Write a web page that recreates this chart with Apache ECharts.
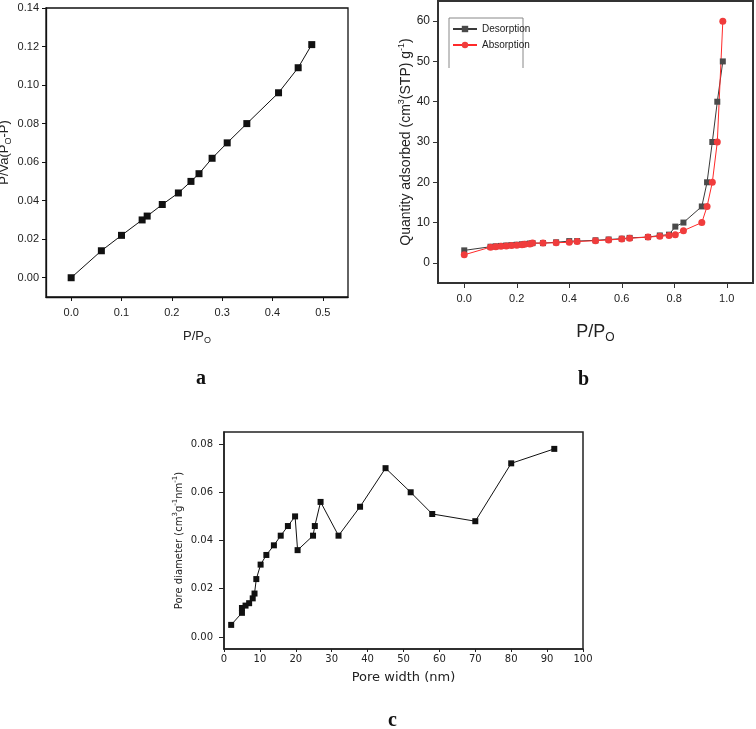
<!DOCTYPE html>
<html><head><meta charset="utf-8">
<script src="https://cdn.jsdelivr.net/npm/echarts@6/dist/echarts.min.js"></script>
<style>html,body{margin:0;padding:0;background:#fff}#c{width:756px;height:729px}</style>
</head><body><div id="c"></div>
<script>
// Panel a: BET plot
const aX = [0, 0.06, 0.10, 0.141, 0.151, 0.181, 0.213, 0.238, 0.254, 0.280, 0.310, 0.349, 0.412, 0.451, 0.478];
const aY = [0, 0.014, 0.022, 0.030, 0.032, 0.038, 0.044, 0.050, 0.054, 0.062, 0.070, 0.080, 0.096, 0.109, 0.121];
const aTicksX = [0, 0.1, 0.2, 0.3, 0.4, 0.5];
const aTicksY = [0, 0.02, 0.04, 0.06, 0.08, 0.10, 0.12, 0.14];

// Panel b: isotherms
const bDesX = [0, 0.10, 0.12, 0.14, 0.16, 0.18, 0.20, 0.22, 0.23, 0.25, 0.26, 0.30, 0.35, 0.40, 0.43, 0.50, 0.55, 0.60, 0.63, 0.70, 0.745, 0.78, 0.804, 0.835, 0.905, 0.925, 0.945, 0.964, 0.985];
const bDesY = [3.1, 4.0, 4.1, 4.2, 4.3, 4.4, 4.5, 4.6, 4.7, 4.8, 4.9, 4.9, 5.1, 5.4, 5.4, 5.6, 5.8, 6.0, 6.2, 6.4, 6.8, 7.0, 9.0, 10.0, 14.0, 20.0, 30.0, 40.0, 50.0];
const bAbsX = [0, 0.10, 0.12, 0.14, 0.16, 0.18, 0.20, 0.22, 0.23, 0.25, 0.26, 0.30, 0.35, 0.40, 0.43, 0.50, 0.55, 0.60, 0.63, 0.70, 0.745, 0.78, 0.804, 0.835, 0.905, 0.925, 0.945, 0.964, 0.985];
const bAbsY = [2.0, 3.9, 4.0, 4.1, 4.2, 4.3, 4.4, 4.5, 4.6, 4.7, 4.9, 4.9, 5.0, 5.1, 5.3, 5.5, 5.7, 5.9, 6.1, 6.4, 6.6, 6.8, 7.0, 8.0, 10.0, 14.0, 20.0, 30.0, 60.0];
const bTicksX = [0, 0.2, 0.4, 0.6, 0.8, 1.0];
const bTicksY = [0, 10, 20, 30, 40, 50, 60];

// Panel c: pore size distribution
const cX = [2, 5, 5, 6, 7, 8, 8.5, 9, 10.2, 11.8, 13.9, 15.8, 17.8, 19.8, 20.5, 24.8, 25.3, 26.9, 31.9, 37.9, 45, 52, 58, 70, 80, 92];
const cY = [0.005, 0.010, 0.012, 0.013, 0.014, 0.016, 0.018, 0.024, 0.030, 0.034, 0.038, 0.042, 0.046, 0.050, 0.036, 0.042, 0.046, 0.056, 0.042, 0.054, 0.070, 0.060, 0.051, 0.048, 0.072, 0.078];
const cTicksY = [0, 0.02, 0.04, 0.06, 0.08];

const pairs = (xs, ys) => xs.map((x, i) => [x, ys[i]]);
const SANS = 'Liberation Sans';
const DJ = 'DejaVu Sans';

function xAx(grid, min, max, ticks, fmt, o) {
  return {
    type: 'value', gridIndex: grid, min: min, max: max,
    splitLine: {show: false},
    axisLine: {show: true, onZero: false, lineStyle: {color: o.color, width: o.w}},
    axisTick: {show: true, inside: false, length: o.tick, customValues: ticks, lineStyle: {color: o.color, width: 1}},
    axisLabel: {customValues: ticks, formatter: fmt, margin: o.margin, fontSize: o.fs, fontFamily: o.ff, color: '#222'},
    name: o.name, nameLocation: 'middle', nameGap: o.gap, nameTextStyle: o.nts
  };
}

const chart = echarts.init(document.getElementById('c'), null, {renderer: 'canvas'});
chart.setOption({
  animation: false,
  backgroundColor: '#fff',
  grid: [
    {left: 46, top: 8, width: 302, height: 289, show: true, borderColor: '#111', borderWidth: 1.3, containLabel: false, outerBoundsMode: 'none'},
    {left: 438, top: 1, width: 315, height: 282, show: true, borderColor: '#333', borderWidth: 2, containLabel: false, outerBoundsMode: 'none'},
    {left: 224, top: 432, width: 359, height: 217, show: true, borderColor: '#222', borderWidth: 1.5, containLabel: false, outerBoundsMode: 'none'}
  ],
  xAxis: [
    xAx(0, -0.05, 0.55, aTicksX, v => v.toFixed(1), {color: '#111', w: 1.3, tick: 4, margin: 10, fs: 11, ff: SANS, gap: 30,
      name: '{n|P/P}{s|O}', nts: {rich: {n: {fontSize: 13, fontFamily: SANS, color: '#222', lineHeight: 18}, s: {fontSize: 9, fontFamily: SANS, color: '#222', verticalAlign: 'bottom', lineHeight: 10}}}}),
    xAx(1, -0.1, 1.1, bTicksX, v => v.toFixed(1), {color: '#333', w: 2, tick: 5, margin: 10, fs: 11, ff: SANS, gap: 37,
      name: '{n|P/P}{s|O}', nts: {rich: {n: {fontSize: 18, fontFamily: SANS, color: '#222', lineHeight: 24}, s: {fontSize: 12, fontFamily: SANS, color: '#222', verticalAlign: 'bottom', lineHeight: 13}}}}),
    Object.assign(xAx(2, 0, 100, null, v => String(v), {color: '#222', w: 1.5, tick: 3, margin: 5, fs: 10, ff: DJ, gap: 22,
      name: 'Pore width (nm)', nts: {fontSize: 13, fontFamily: DJ, color: '#222'}}), {interval: 10})
  ],
  yAxis: [
    xAx(0, -0.01, 0.14, aTicksY, v => v.toFixed(2), {color: '#111', w: 1.3, tick: 4, margin: 7, fs: 11, ff: SANS, gap: 33,
      name: '{n|P/Va(P}{s|O}{n|-P)}', nts: {rich: {n: {fontSize: 13, fontFamily: SANS, color: '#222', lineHeight: 18}, s: {fontSize: 9, fontFamily: SANS, color: '#222', verticalAlign: 'bottom', lineHeight: 10}}}}),
    xAx(1, -5, 65, bTicksY, v => String(v), {color: '#333', w: 2, tick: 5, margin: 8, fs: 12, ff: SANS, gap: 23,
      name: '{n|Quantity adsorbed (cm}{p|3}{n|(STP) g}{p|-1}{n|)}', nts: {rich: {n: {fontSize: 14, fontFamily: SANS, color: '#222', lineHeight: 18}, p: {fontSize: 9, fontFamily: SANS, color: '#222', verticalAlign: 'top', lineHeight: 10}}}}),
    xAx(2, -0.005, 0.085, cTicksY, v => v.toFixed(2), {color: '#222', w: 1.5, tick: 5, margin: 11, fs: 10, ff: DJ, gap: 38,
      name: '{n|Pore diameter (cm}{p|3}{n|g}{p|-1}{n|nm}{p|-1}{n|)}', nts: {rich: {n: {fontSize: 10, fontFamily: DJ, color: '#222', lineHeight: 14}, p: {fontSize: 7, fontFamily: DJ, color: '#222', verticalAlign: 'top', lineHeight: 8}}}})
  ],
  legend: {
    data: ['Desorption', 'Absorption'], orient: 'vertical', left: 452, top: 24, itemWidth: 24, itemHeight: 8, itemGap: 6,
    textStyle: {fontSize: 10, fontFamily: SANS, color: '#222'}, padding: 0
  },
  graphic: [
    {type: 'polyline', shape: {points: [[449, 68], [449, 18], [523, 18], [523, 68]]}, style: {stroke: '#888', fill: null, lineWidth: 1}}
  ],
  title: [
    {text: 'a', left: 196, top: 369, padding: 0, textStyle: {fontFamily: 'Liberation Serif', fontWeight: 'bold', fontSize: 20, color: '#111'}},
    {text: 'b', left: 578, top: 370, padding: 0, textStyle: {fontFamily: 'Liberation Serif', fontWeight: 'bold', fontSize: 20, color: '#111'}},
    {text: 'c', left: 388, top: 711, padding: 0, textStyle: {fontFamily: 'Liberation Serif', fontWeight: 'bold', fontSize: 20, color: '#111'}}
  ],
  series: [
    {type: 'line', xAxisIndex: 0, yAxisIndex: 0, data: pairs(aX, aY), symbol: 'rect', symbolSize: 7,
      lineStyle: {color: '#111', width: 1}, itemStyle: {color: '#111'}},
    {name: 'Desorption', type: 'line', xAxisIndex: 1, yAxisIndex: 1, data: pairs(bDesX, bDesY), symbol: 'rect', symbolSize: 6,
      lineStyle: {color: '#3a3a3a', width: 1}, itemStyle: {color: '#4a4a4a'}},
    {name: 'Absorption', type: 'line', xAxisIndex: 1, yAxisIndex: 1, data: pairs(bAbsX, bAbsY), symbol: 'circle', symbolSize: 7,
      lineStyle: {color: '#ff2a2a', width: 1}, itemStyle: {color: '#f03c3c'}},
    {type: 'line', xAxisIndex: 2, yAxisIndex: 2, data: pairs(cX, cY), symbol: 'rect', symbolSize: 6,
      lineStyle: {color: '#111', width: 1}, itemStyle: {color: '#111'}}
  ]
});
</script></body></html>
